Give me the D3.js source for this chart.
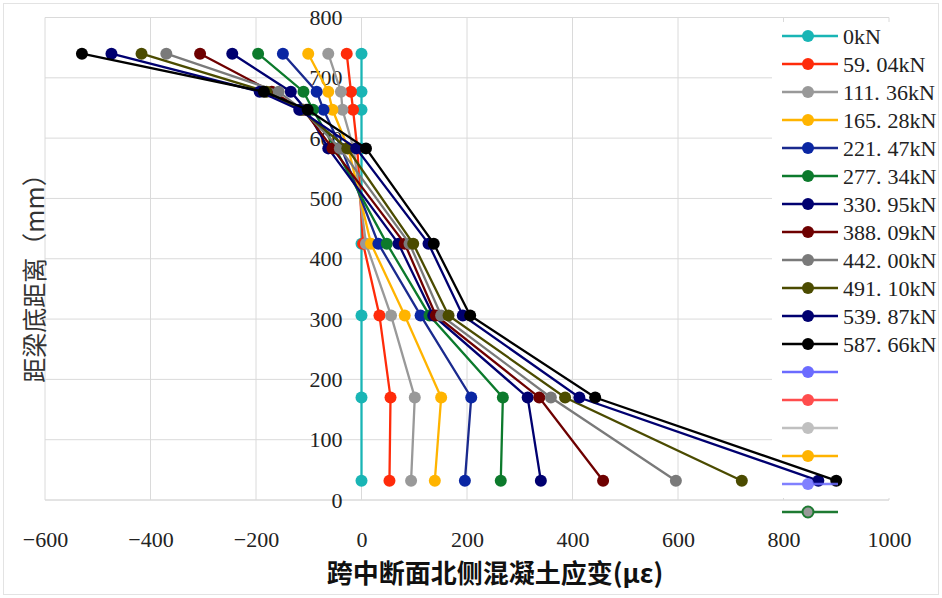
<!DOCTYPE html>
<html><head><meta charset="utf-8">
<script src="https://cdn.jsdelivr.net/npm/d3@7"></script>
<style>body{margin:0;background:#fff}svg{display:block}</style>
</head><body><svg id="c" width="942" height="598"></svg>
<script>
// ---- data ----
const heights = [740, 677, 647, 583, 425, 306, 170, 32];
const loads = ["0kN","59.04kN","111.36kN","165.28kN","221.47kN","277.34kN","330.95kN","388.09kN","442.00kN","491.10kN","539.87kN","587.66kN"];
const s0    = [0, 0, 0, 0, 0, 0, 0, 0];
const s59   = [-28, -20, -16, -8, 3, 34, 55, 53];
const s111  = [-63, -39, -36, -15, 8.5, 56, 101, 94];
const s165  = [-101, -63, -55, -25, 18, 82, 151, 139];
const s221  = [-149, -85, -72, -38, 32, 112, 208, 196];
const s277  = [-196, -110, -92, -50, 48, 129, 268, 264];
const s330  = [-245, -134, -105, -63, 70, 136, 315, 340];
const s388  = [-306, -170, -110, -55, 82, 141, 337, 458];
const s442  = [-370, -157, -112, -41, 91, 151, 359, 596];
const s491  = [-417, -180, -115, -27, 98, 165, 386, 721];
const s539  = [-474, -193, -118, -10, 127, 192, 413, 866];
const s587  = [-530, -185, -102, 8.5, 137, 206, 443, 900];
const seriesValues = [s0, s59, s111, s165, s221, s277, s330, s388, s442, s491, s539, s587];
const colors = ["#19B5B5","#FF2B0A","#999999","#FFB400","#1A2A8E","#0C7A2C","#000070","#6E0000","#7A7A7A","#4B4B00","#000070","#000000"];
const markerColors = ["#19B5B5","#FF2B0A","#999999","#FFB400","#0A26A3","#0C7A2C","#000070","#6E0000","#7A7A7A","#4B4B00","#000070","#000000"];
// extra (unnamed) legend entries
const extraLine = ["#6B6BFF","#FF4D4D","#C0C0C0","#FFB300","#6B6BFF","#1E7A32"];
const extraFill = ["#6B6BFF","#FF4D4D","#C0C0C0","#FFB300","#6B6BFF","#999999"];
const xTicks = [-600,-400,-200,0,200,400,600,800,1000];
const yTicks = [0,100,200,300,400,500,600,700,800];
const xTitle = "跨中断面北侧混凝土应变(με)";
const yTitle = "距梁底距离（mm）";

// ---- drawing ----
const svg = d3.select("#c");
const x = d3.scaleLinear().domain([-600, 1000]).range([45, 889]);
const y = d3.scaleLinear().domain([0, 800]).range([500, 17.5]);
const serif = "'Liberation Serif', 'DejaVu Serif', serif";

svg.append("rect").attr("x",3.5).attr("y",3.5).attr("width",935).attr("height",591)
  .attr("fill","none").attr("stroke","#e3e3e3");

const grid = svg.append("g");
grid.selectAll("line.h").data(yTicks).join("line")
  .attr("x1", x(-600)).attr("x2", x(1000)).attr("y1", d=>y(d)).attr("y2", d=>y(d))
  .attr("stroke","#dadada").attr("stroke-width",1);
grid.selectAll("line.v").data(xTicks).join("line")
  .attr("y1", y(0)).attr("y2", y(800)).attr("x1", d=>x(d)).attr("x2", d=>x(d))
  .attr("stroke","#dadada").attr("stroke-width",1);

// legend background
const legX = 772, legY = 22;
svg.append("rect").attr("x",legX).attr("y",legY).attr("width",942-legX-4).attr("height",498-legY).attr("fill","#fff");
svg.append("line").attr("x1",x(-600)).attr("x2",x(1000)).attr("y1",y(0)).attr("y2",y(0)).attr("stroke","#dadada");

// axis tick labels via d3 axes
const xAxis = svg.append("g").attr("transform",`translate(0,${y(0)})`)
  .call(d3.axisBottom(x).tickValues(xTicks).tickSize(0).tickPadding(31).tickFormat(d=>d3.format("")(d).replace("-","−")));
xAxis.select(".domain").remove();
xAxis.attr("font-family",null).attr("font-size",null);
xAxis.selectAll("text").style("font-family",serif).style("font-size","22px").attr("fill","#222");

const yAxis = svg.append("g").attr("transform",`translate(${x(0)},0)`)
  .call(d3.axisLeft(y).tickValues(yTicks).tickSize(0).tickPadding(19));
yAxis.select(".domain").remove();
yAxis.attr("font-family",null).attr("font-size",null);
yAxis.selectAll("text").style("font-family",serif).style("font-size","22px").attr("fill","#222");

// series
const line = d3.line().x(d=>x(d[0])).y(d=>y(d[1]));
seriesValues.forEach((vals,i)=>{
  const pts = vals.map((v,j)=>[v, heights[j]]);
  const g = svg.append("g");
  g.append("path").attr("d", line(pts)).attr("fill","none").attr("stroke",colors[i]).attr("stroke-width",2.3);
  g.selectAll("circle").data(pts).join("circle")
    .attr("cx",d=>x(d[0])).attr("cy",d=>y(d[1])).attr("r",6).attr("fill",markerColors[i]);
});

// legend
const leg = svg.append("g");
const items = loads.map((l,i)=>({name:l, line:colors[i], fill:markerColors[i], stroke:null}))
  .concat(extraLine.map((c,i)=>({name:"", line:c, fill:extraFill[i], stroke: i===5 ? c : null})));
items.forEach((it,i)=>{
  const cy = 36 + i*28;
  const gi = leg.append("g").attr("opacity", i===16 ? 0.85 : 1);
  gi.append("line").attr("x1",782).attr("x2",838).attr("y1",cy).attr("y2",cy).attr("stroke",it.line).attr("stroke-width",2.3);
  gi.append("circle").attr("cx",808).attr("cy",cy).attr("r",it.stroke?5.5:6).attr("fill",it.fill)
    .attr("stroke",it.stroke||"none").attr("stroke-width",it.stroke?2:0);
  if (it.name) {
    const t = gi.append("text").attr("x",843).attr("y",cy).attr("dy","0.35em")
      .style("font-family",serif).style("font-size","22px").attr("fill","#222");
    const parts = it.name.split(".");
    if (parts.length===2){
      t.append("tspan").text(parts[0]+".");
      t.append("tspan").attr("dx",6).text(parts[1]);
    } else t.text(it.name);
  }
});

// titles
svg.append("text").attr("x",495).attr("y",574).attr("dy","0.35em").attr("text-anchor","middle")
  .attr("font-family","'Noto Sans CJK SC',sans-serif").attr("font-size",26).attr("font-weight","bold")
  .attr("fill","#111").text(xTitle);
svg.append("text").attr("transform","translate(35,272) rotate(-90)").attr("dy","0.35em").attr("text-anchor","middle")
  .attr("font-family","'Noto Sans CJK SC',sans-serif").attr("font-size",25)
  .attr("fill","#333").text(yTitle);
</script></body></html>
